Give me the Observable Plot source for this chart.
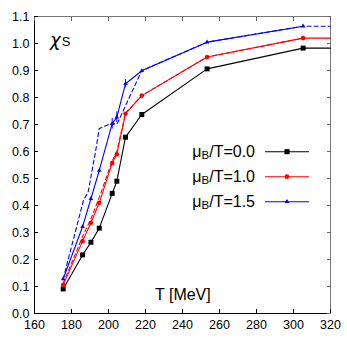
<!DOCTYPE html>
<html><head><meta charset="utf-8">
<script src="https://cdn.jsdelivr.net/npm/d3@7"></script>
<script src="https://cdn.jsdelivr.net/npm/@observablehq/plot@0.6"></script>
<style>
body{margin:0;background:#fff;}
#wrap{width:347px;height:347px;}
</style></head><body><div id="wrap"></div>
<script>
// Temperature points (MeV); last value is the edge of the plot where curves run flat
const T = [175.5, 186, 190.5, 195, 202, 204.5, 209.2, 218, 253.3, 305.2, 320];
const chi00 = [0.091, 0.217, 0.264, 0.316, 0.445, 0.49, 0.653, 0.737, 0.906, 0.983, 0.983];
const chi10 = [0.106, 0.268, 0.336, 0.41, 0.557, 0.59, 0.74, 0.807, 0.95, 1.02, 1.02];
const chi15 = [0.128, 0.322, 0.425, 0.53, 0.703, 0.727, 0.851, 0.899, 1.005, 1.064];
const err15 = [0, 0, 0, 0, 0.02, 0.02, 0.015, 0, 0, 0];
// dashed companion curves
const T10d = [175.5, 186, 190.5, 195, 202, 204.5, 209.2, 218, 253.3, 305.2];
const chi10d = [0.112, 0.285, 0.35, 0.43, 0.565, 0.6, 0.742, 0.807, 0.95, 1.02];
const T15d = [175.5, 186.5, 189, 193, 195, 202, 204.5, 218, 253.3, 305.2, 320];
const chi15d = [0.128, 0.42, 0.45, 0.6, 0.685, 0.705, 0.7, 0.9, 1.005, 1.064, 1.064];
const xTicks = [160, 180, 200, 220, 240, 260, 280, 300, 320];
const yTicks = [0, 0.1, 0.2, 0.3, 0.4, 0.5, 0.6, 0.7, 0.8, 0.9, 1.0, 1.1];
const series = ["\u03bcB/T=0.0", "\u03bcB/T=1.0", "\u03bcB/T=1.5"];
const colors = ["#000000", "#ff0000", "#0000ff"];
const symbols = ["square", "circle", "triangle"];

const mk = (xs, ys) => xs.map((t, i) => ({T: t, v: ys[i]}));
const d00 = mk(T, chi00), d10 = mk(T, chi10);
const d15 = T.slice(0, chi15.length).map((t, i) => ({T: t, v: chi15[i], e: err15[i]}));
const d10d = mk(T10d, chi10d), d15d = mk(T15d, chi15d);
const pts = d => d.filter(p => p.T < 320);

const font = "Liberation Sans, Arial, Helvetica, sans-serif";
const chart = Plot.plot({
  width: 347, height: 347,
  marginLeft: 34, marginRight: 17, marginTop: 16, marginBottom: 34,
  style: {fontFamily: font, fontSize: "12px", background: "white", color: "black"},
  x: {domain: [160, 320]},
  y: {domain: [0, 1.1]},
  marks: [
    Plot.frame({stroke: "#777", strokeWidth: 1}),
    Plot.ruleX([160], {stroke: "#000"}),
    Plot.ruleY([0], {stroke: "#000"}),
    Plot.axisX({ticks: xTicks, tickSize: -4, tickPadding: 11, tickFormat: d => d, label: null, fontSize: 12.5}),
    Plot.axisX({anchor: "top", ticks: xTicks, tickSize: -4, tickFormat: () => "", label: null, stroke: "#666"}),
    Plot.axisY({ticks: yTicks, tickSize: -4, tickPadding: 9, tickFormat: d3.format(".1f"), label: null, fontSize: 12.5}),
    Plot.axisY({anchor: "right", ticks: yTicks, tickSize: -4, tickFormat: () => "", label: null, stroke: "#666"}),
    Plot.line(d15d, {x: "T", y: "v", stroke: colors[2], strokeWidth: 1.1, strokeDasharray: "4,3"}),
    Plot.line(d10d, {x: "T", y: "v", stroke: colors[1], strokeWidth: 1.1, strokeDasharray: "4,3"}),
    Plot.line(d00, {x: "T", y: "v", stroke: colors[0], strokeWidth: 1.1}),
    Plot.line(d10, {x: "T", y: "v", stroke: colors[1], strokeWidth: 1.1}),
    Plot.line(d15, {x: "T", y: "v", stroke: colors[2], strokeWidth: 1.1}),
    Plot.ruleX(d15.filter(p => p.e > 0), {x: "T", y1: p => p.v - p.e, y2: p => p.v + p.e, stroke: colors[2], strokeWidth: 1}),
    Plot.dot(pts(d00), {x: "T", y: "v", symbol: symbols[0], r: 2.8, fill: colors[0]}),
    Plot.dot(pts(d10), {x: "T", y: "v", symbol: symbols[1], r: 2.3, fill: colors[1]}),
    Plot.dot(pts(d15), {x: "T", y: "v", symbol: symbols[2], r: 1.7, fill: colors[2]})
  ]
});
document.getElementById("wrap").appendChild(chart);

// annotations inside the frame
const svg = d3.select(chart);
const g = svg.append("g").attr("font-family", font).attr("fill", "#000").attr("text-anchor", "start");
const chi = g.append("text").attr("x", 50).attr("y", 46);
chi.append("tspan").attr("font-size", 18).attr("font-family", "DejaVu Sans").attr("font-style", "italic").text("\u03c7");
chi.append("tspan").attr("font-size", 13).attr("dx", 1).text("S");
g.append("text").attr("x", 155).attr("y", 300).attr("font-size", 16).text("T [MeV]");

// legend
const rowY = [151.7, 176.7, 201.7];
series.forEach((s, i) => {
  const t = g.append("text").attr("x", 255).attr("y", rowY[i] + 5).attr("text-anchor", "end").attr("font-size", 16);
  t.append("tspan").text("\u03bc");
  t.append("tspan").attr("font-size", 11.5).attr("dy", 2.6).text("B");
  t.append("tspan").attr("dy", -2.6).text(s.slice(2));
  g.append("line").attr("x1", 265).attr("x2", 309).attr("y1", rowY[i]).attr("y2", rowY[i])
    .attr("stroke", colors[i]).attr("stroke-width", 1.1);
  const sym = {square: d3.symbolSquare, circle: d3.symbolCircle, triangle: d3.symbolTriangle}[symbols[i]];
  const size = [26, 17, 10][i];
  g.append("path").attr("d", d3.symbol(sym, size)()).attr("transform", `translate(287,${rowY[i]})`).attr("fill", colors[i]);
});
</script>
</body></html>
